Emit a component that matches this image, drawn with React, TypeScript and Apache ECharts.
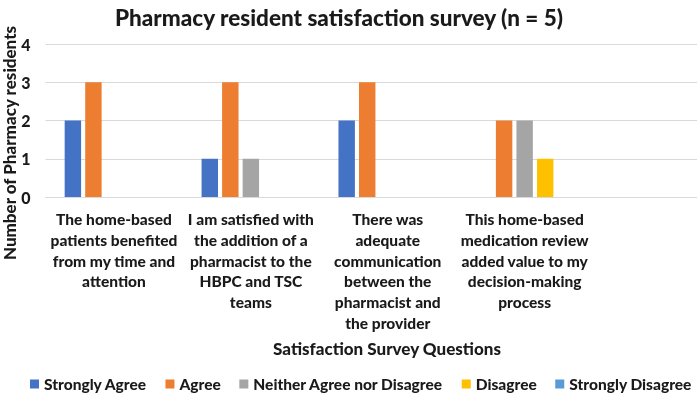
import React, { useEffect, useRef } from "react";
import * as echarts from "echarts";

const categories = [
  "The home-based\npatients benefited\nfrom my time and\nattention",
  "I am satisfied with\nthe addition of a\npharmacist to the\nHBPC and TSC\nteams",
  "There was\nadequate\ncommunication\nbetween the\npharmacist and\nthe provider",
  "This home-based\nmedication review\nadded value to my\ndecision-making\nprocess",
];
const seriesNames = [
  "Strongly Agree",
  "Agree",
  "Neither Agree nor Disagree",
  "Disagree",
  "Strongly Disagree",
];
const stronglyAgree = [2, 1, 2, 0];
const agree = [3, 3, 3, 2];
const neither = [0, 1, 0, 2];
const disagree = [0, 0, 0, 1];
const stronglyDisagree = [0, 0, 0, 0];
const yTicks = [0, 1, 2, 3, 4];
const colors = ["#4472C4", "#ED7D31", "#A5A5A5", "#FFC000", "#5B9BD5"];

const FONT = "Lato, 'Open Sans', sans-serif";
const W = "900";

export default function App() {
  const ref = useRef<HTMLDivElement>(null);
  useEffect(() => {
    if (!ref.current) return;
    const chart = echarts.init(ref.current, undefined, { renderer: "svg" });
    const values = [stronglyAgree, agree, neither, disagree, stronglyDisagree];
    chart.setOption({
      animation: false,
      color: colors,
      textStyle: { fontFamily: FONT },
      title: {
        text: "Pharmacy resident satisfaction survey (n = 5)",
        left: 110,
        top: 1,
        textStyle: { fontFamily: FONT, fontSize: 22.5, fontWeight: W, color: "#1a1a1a" },
      },
      legend: {
        data: seriesNames,
        left: 30,
        top: 376,
        width: 690,
        padding: 0,
        icon: "rect",
        itemWidth: 9,
        itemHeight: 9,
        itemGap: 18.5,
        textStyle: { fontFamily: FONT, fontSize: 15.5, fontWeight: W, color: "#1a1a1a" },
      },
      grid: { left: 45.5, top: 44, right: 0, height: 153, containLabel: false },
      xAxis: {
        type: "category",
        data: [...categories, ""],
        axisLine: { lineStyle: { color: "#d9d9d9" } },
        axisTick: { show: false },
        axisLabel: {
          interval: 0,
          margin: 12,
          fontFamily: FONT,
          fontSize: 15.5,
          fontWeight: W,
          lineHeight: 20.7,
          color: "#1a1a1a",
        },
      },
      yAxis: {
        type: "value",
        min: yTicks[0],
        max: yTicks[yTicks.length - 1],
        interval: 1,
        axisLine: { show: false },
        axisTick: { show: false },
        splitLine: { lineStyle: { color: "#d9d9d9", width: 1 } },
        axisLabel: {
          margin: 15,
          fontFamily: FONT,
          fontSize: 16,
          fontWeight: W,
          color: "#1a1a1a",
        },
      },
      graphic: [
        {
          type: "text",
          x: 9,
          y: 143,
          rotation: Math.PI / 2,
          style: {
            text: "Number of Pharmacy residents",
            fontFamily: FONT,
            fontSize: 17,
            fontWeight: W,
            fill: "#1a1a1a",
            align: "center",
            verticalAlign: "middle",
          },
        },
        {
          type: "text",
          x: 387,
          y: 348,
          style: {
            text: "Satisfaction Survey Questions",
            fontFamily: FONT,
            fontSize: 17,
            fontWeight: W,
            fill: "#1a1a1a",
            align: "center",
            verticalAlign: "middle",
          },
        },
      ],
      series: seriesNames.map((name, i) => ({
        name,
        type: "bar",
        data: values[i],
        barGap: "25%",
        barCategoryGap: "28%",
      })),
    });
    return () => chart.dispose();
  }, []);
  return (
    <div
      style={{
        position: "fixed",
        left: 0,
        top: 0,
        width: 697,
        height: 400,
        overflow: "hidden",
      }}
    >
      <div ref={ref} style={{ width: 729.5, height: 400 }} />
    </div>
  );
}
